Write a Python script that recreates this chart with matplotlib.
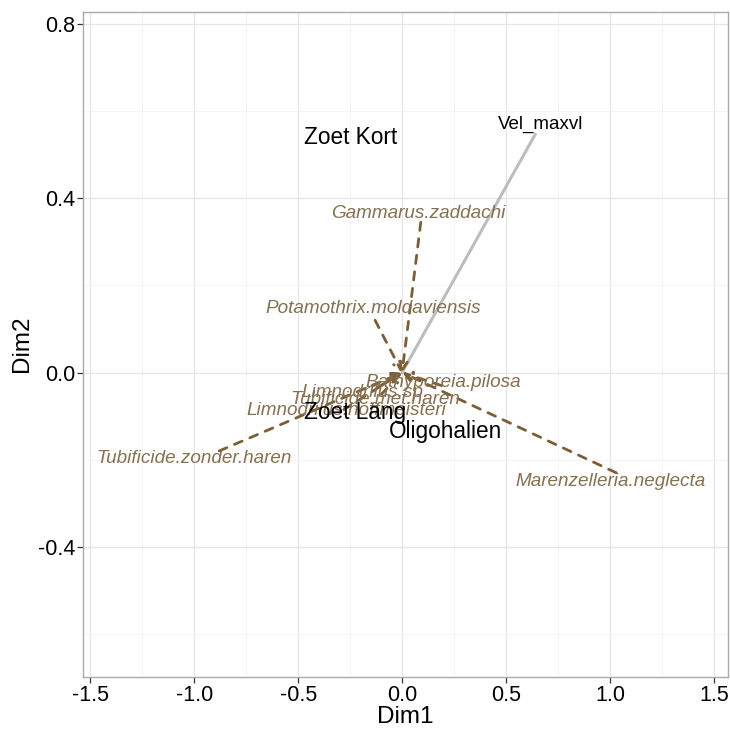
import matplotlib
matplotlib.use("Agg")
import matplotlib.pyplot as plt
import numpy as np

plt.rcParams['font.family'] = ['Liberation Sans', 'DejaVu Sans']

# species arrows (brown, dashed)
species = ['Gammarus.zaddachi', 'Potamothrix.moldaviensis', 'Bathyporeia.pilosa',
           'Limnodrilus.sp.', 'Tubificide.met.haren', 'Limnodrilus.hoffmeisteri',
           'Tubificide.zonder.haren', 'Marenzelleria.neglecta']
sp_x = [0.09, -0.13, 0.19, -0.12, -0.10, -0.28, -0.88, 1.03]
sp_y = [0.345, 0.12, -0.03, -0.035, -0.05, -0.085, -0.18, -0.23]
lab_x = [0.08, -0.14, 0.20, -0.18, -0.13, -0.27, -1.0, 1.005]
lab_y = [0.364, 0.148, -0.024, -0.045, -0.063, -0.088, -0.198, -0.25]

# environmental vector (grey)
env_name = 'Vel_maxvl'
env_x, env_y = 0.64, 0.546
env_lab_x, env_lab_y = 0.668, 0.569

# sample groups
groups = ['Zoet Kort', 'Zoet Lang', 'Oligohalien']
grp_x = [-0.25, -0.226, 0.207]
grp_y = [0.54, -0.092, -0.136]

brown_line = '#7d5e34'
brown_text = '#86704f'

fig = plt.figure(figsize=(7.3, 7.3), dpi=100)
ax = fig.add_axes([0.114, 0.073, 0.883, 0.911])

ax.set_xlim(-1.534, 1.567)
ax.set_ylim(-0.698, 0.828)

ax.set_xticks([-1.5, -1.0, -0.5, 0.0, 0.5, 1.0, 1.5])
ax.set_yticks([-0.4, 0.0, 0.4, 0.8])
ax.set_xticks(np.arange(-1.25, 1.6, 0.5), minor=True)
ax.set_yticks([-0.6, -0.2, 0.2, 0.6], minor=True)
ax.grid(which='major', color='#e6e6e6', linewidth=0.9)
ax.grid(which='minor', color='#f2f2f2', linewidth=0.6)
ax.set_axisbelow(True)

ax.set_xticklabels(['-1.5', '-1.0', '-0.5', '0.0', '0.5', '1.0', '1.5'])
ax.set_yticklabels(['-0.4', '0.0', '0.4', '0.8'])
ax.tick_params(which='major', length=4, width=0.9, color='#333333',
               labelsize=15.5, labelcolor='#000000', pad=2)
ax.tick_params(which='minor', length=0)
for s in ax.spines.values():
    s.set_color('#aaaaaa')
    s.set_linewidth(1.0)

# grey environmental line
ax.plot([0, env_x], [0, env_y], color='#bdbdbd', linewidth=2.2, zorder=2)
ax.text(env_lab_x, env_lab_y, env_name, fontsize=13.5, color='black',
        ha='center', va='center', zorder=4)

# dashed species arrows pointing at the origin
for x, y in zip(sp_x, sp_y):
    ax.annotate('', xy=(0, 0), xytext=(x, y),
                arrowprops=dict(arrowstyle='->', color=brown_line, lw=2.0,
                                linestyle=(0, (3, 3)), mutation_scale=14,
                                shrinkA=0, shrinkB=0), zorder=3)

for name, x, y in zip(species, lab_x, lab_y):
    ax.text(x, y, name, fontsize=13.6, style='italic', color=brown_text,
            ha='center', va='center', zorder=4)

for name, x, y in zip(groups, grp_x, grp_y):
    ax.text(x, y, name, fontsize=16.3, color='black', ha='center', va='center', zorder=5)

ax.set_xlabel('Dim1', fontsize=17.5, labelpad=0)
ax.set_ylabel('Dim2', fontsize=17.5, labelpad=3)

fig.savefig('out.png', dpi=100)
